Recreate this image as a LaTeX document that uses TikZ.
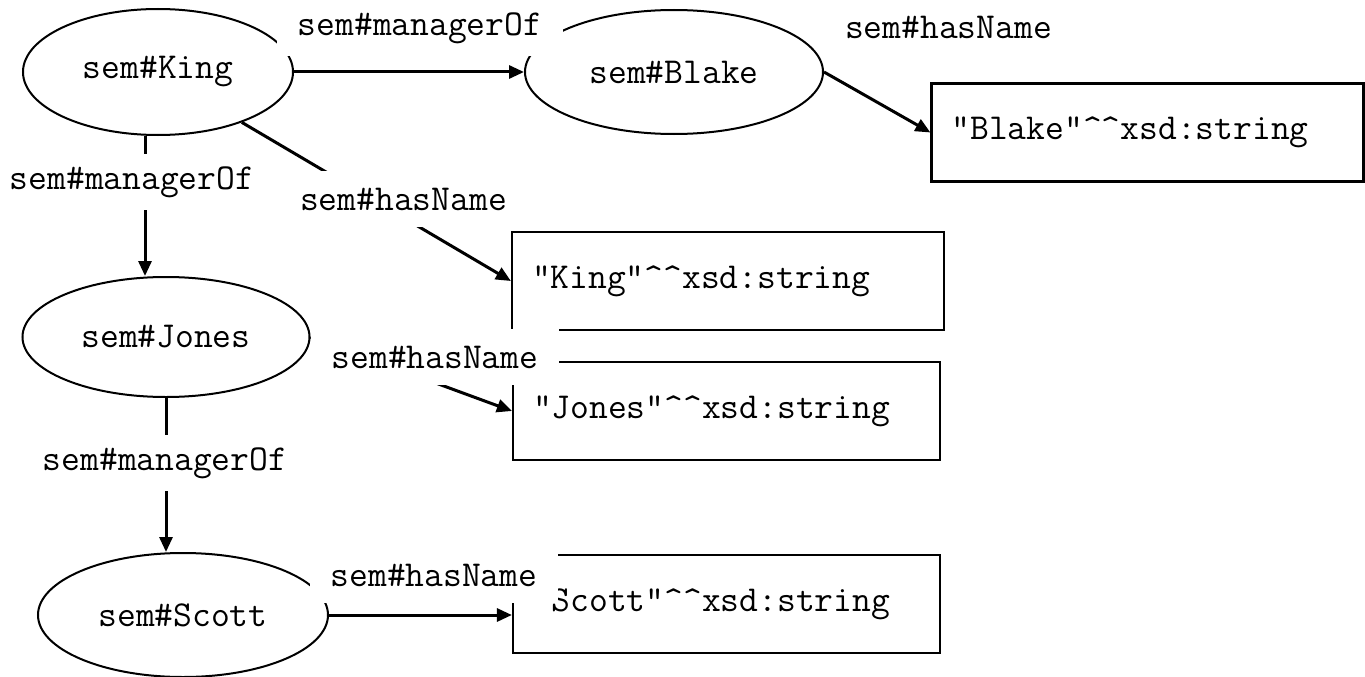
\documentclass[tikz,border=0pt]{standalone}
\usepackage{fontspec}
\usetikzlibrary{arrows.meta,calc,shapes.geometric}
\newcommand{\qt}{\symbol{34}}
\newcommand{\crt}{\symbol{94}}
\begin{document}
\begin{tikzpicture}[x=1pt,y=-1pt,
  font=\ttfamily\fontsize{36.5pt}{40pt}\selectfont,
  res/.style={draw,ellipse,line width=2pt,inner sep=0pt},
  lit/.style={draw,rectangle,line width=2.2pt,inner xsep=20pt,inner ysep=0pt,align=left,minimum height=98pt},
  arr/.style={line width=3pt,-{Triangle[length=15pt,width=13pt]}},
  lbl/.style={fill=white,inner xsep=21pt,inner ysep=0pt,minimum height=56pt}]
\useasboundingbox (0,0) rectangle (1365,677);
% resources
\node[res,minimum width=270pt,minimum height=126pt] (King) at (158,72) {sem\#King};
\node[res,minimum width=298pt,minimum height=124pt] (Blake) at (674,72) {sem\#Blake};
\node[res,minimum width=287pt,minimum height=120pt] (Jones) at (166,337) {sem\#Jones};
\node[res,minimum width=290pt,minimum height=124pt] (Scott) at (183,615) {sem\#Scott};
% literals
\node[lit,text width=392pt] (blakebox) at (1147.5,132.5) {\qt Blake\qt\crt\crt xsd:string};
\node[lit,text width=392pt] (kingbox) at (728,281) {\qt King\qt\crt\crt xsd:string};
\node[lit,text width=387pt] (jonesbox) at (726.5,411) {\qt Jones\qt\crt\crt xsd:string};
\node[lit,text width=387pt] (scottbox) at (726.5,604) {\qt Scott\qt\crt\crt xsd:string};
% connectors
\draw[arr] (King.east) -- (Blake.west);
\draw[arr] ($(King.south)+(-13,0)$) -- ($(Jones.north)+(-21,0)$);
\draw[arr] (King.-31.6) -- (kingbox.west);
\draw[arr] (Blake.east) -- (blakebox.west);
\draw[arr] (Jones.south) -- ($(Scott.north)+(-17,0)$);
\draw[arr] (Jones.east) -- (jonesbox.west);
\draw[arr] (Scott.east) -- (Scott.east -| scottbox.west);
% labels
\node[lbl] (l1) at (420,28) {sem\#managerOf};
\node[lbl] (l2) at (948.5,27) {sem\#hasName};
\node[lbl] (l3) at (132,182) {sem\#managerOf};
\node[lbl] (l4) at (403.5,199) {sem\#hasName};
\node[lbl] (l5) at (435,357) {sem\#hasName};
\node[lbl] (l6) at (165,463) {sem\#managerOf};
\node[lbl] (l7) at (434,575) {sem\#hasName};
\end{tikzpicture}
\end{document}
